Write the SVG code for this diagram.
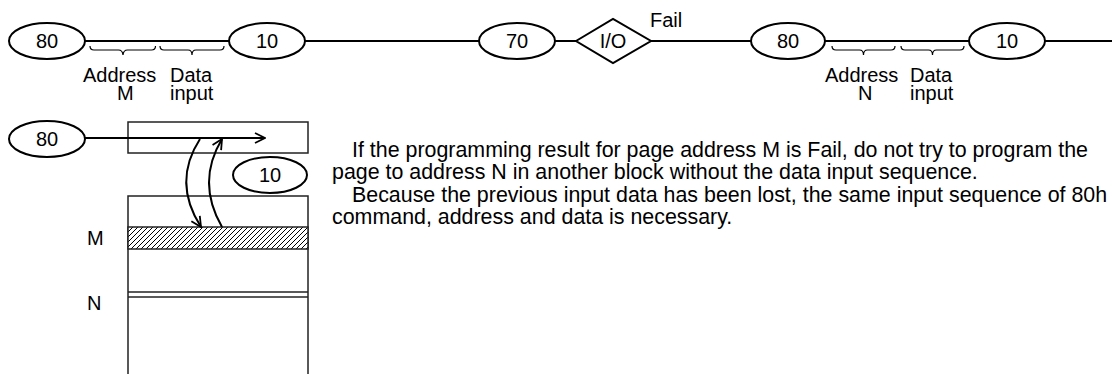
<svg xmlns="http://www.w3.org/2000/svg" width="1112" height="374" viewBox="0 0 1112 374">
<style>
text{font-family:"Liberation Sans",Arial,sans-serif;font-size:20px;fill:#000}
.n{fill:#fff;stroke:#000;stroke-width:2}
.c{fill:none;stroke:#000;stroke-width:2}
.b{fill:none;stroke:#000;stroke-width:1.2}
.r{fill:#fff;stroke:#222;stroke-width:1.5}
.m{text-anchor:middle}
.t{font-size:21.4px}
</style>
<defs>
<marker id="ah" viewBox="0 0 12 12" refX="11" refY="6" markerWidth="12" markerHeight="12" markerUnits="userSpaceOnUse" orient="auto">
<path d="M1,1 L11,6 L1,11" fill="none" stroke="#000" stroke-width="1.8"/>
</marker>
<pattern id="hatch" patternUnits="userSpaceOnUse" width="5" height="5">
<rect width="5" height="5" fill="#fff"/>
<path d="M-1,6 L6,-1 M-1,1 L1,-1 M4,6 L6,4" stroke="#000" stroke-width="1"/>
</pattern>
</defs>
<g id="connectors">
<line class="c" x1="85" y1="41" x2="229" y2="41"/>
<line class="c" x1="305" y1="41" x2="479" y2="41"/>
<line class="c" x1="555" y1="41" x2="576" y2="41"/>
<line class="c" x1="651" y1="41" x2="752" y2="41"/>
<line class="c" x1="825" y1="41" x2="969" y2="41"/>
<line class="c" x1="1045" y1="41" x2="1112" y2="41"/>
</g>
<g id="braces">
<path class="b" d="M90,46 q0,4 4,4 h24.5 q4,0 4.5,5 q0.5,-5 4.5,-5 h24 q4,0 4,-4"/>
<path class="b" d="M160,46 q0,4 4,4 h24 q4,0 4,5 q0,-5 4,-5 h24 q4,0 4,-4"/>
<path class="b" d="M832,46 q0,4 4,4 h23.5 q4,0 4,5 q0,-5 4,-5 h23.5 q4,0 4,-4"/>
<path class="b" d="M901,46 q0,4 4,4 h23.5 q4,0 4,5 q0,-5 4,-5 h23.5 q4,0 4,-4"/>
</g>
<g id="n80a"><ellipse class="n" cx="47" cy="41" rx="38" ry="18"/><text class="m" x="47" y="48">80</text></g>
<g id="n10a"><ellipse class="n" cx="267" cy="41" rx="38" ry="18"/><text class="m" x="267" y="48">10</text></g>
<g id="n70"><ellipse class="n" cx="517" cy="41" rx="38" ry="18"/><text class="m" x="517" y="48">70</text></g>
<g id="nio"><polygon class="n" points="576,41 613,19 651,41 613,63"/><text class="m" x="613" y="48">I/O</text></g>
<g id="fail"><text x="650" y="27">Fail</text></g>
<g id="n80b"><ellipse class="n" cx="788" cy="41" rx="37" ry="18"/><text class="m" x="788" y="48">80</text></g>
<g id="n10b"><ellipse class="n" cx="1007" cy="41" rx="38" ry="18"/><text class="m" x="1007" y="48">10</text></g>
<g id="labels">
<text x="83" y="82">Address</text><text x="170" y="82">Data</text>
<text x="117" y="100">M</text><text x="170" y="100">input</text>
<text x="825" y="82">Address</text><text x="910" y="82">Data</text>
<text x="858" y="100">N</text><text x="910" y="100">input</text>
</g>
<g id="memory">
<rect class="r" x="128" y="122" width="180" height="31"/>
<rect class="r" x="128" y="196" width="180" height="190"/>
<rect x="128" y="227" width="180" height="22" fill="url(#hatch)" stroke="#222" stroke-width="1.5"/>
<line x1="128" y1="292" x2="308" y2="292" stroke="#222" stroke-width="1.5"/>
<line x1="128" y1="297" x2="308" y2="297" stroke="#222" stroke-width="1.5"/>
<text x="87" y="245">M</text>
<text x="87" y="310">N</text>
</g>
<g id="n80c"><ellipse class="n" cx="47" cy="139" rx="38" ry="18"/><text class="m" x="47" y="146">80</text></g>
<g id="n10c"><ellipse class="n" cx="270" cy="175" rx="37" ry="18"/><text class="m" x="270" y="182">10</text></g>
<g id="arrows">
<line class="c" x1="85" y1="138" x2="265" y2="138" marker-end="url(#ah)"/>
<path class="c" d="M200,139 Q172,182 201,227" marker-end="url(#ah)"/>
<path class="c" d="M222,227 Q196,182 222,139" marker-end="url(#ah)"/>
</g>
<g id="note">
<text class="t" x="352" y="157">If the programming result for page address M is Fail, do not try to program the</text>
<text class="t" x="332" y="179">page to address N in another block without the data input sequence.</text>
<text class="t" x="352" y="202">Because the previous input data has been lost, the same input sequence of 80h</text>
<text class="t" x="332" y="224">command, address and data is necessary.</text>
</g>
</svg>
